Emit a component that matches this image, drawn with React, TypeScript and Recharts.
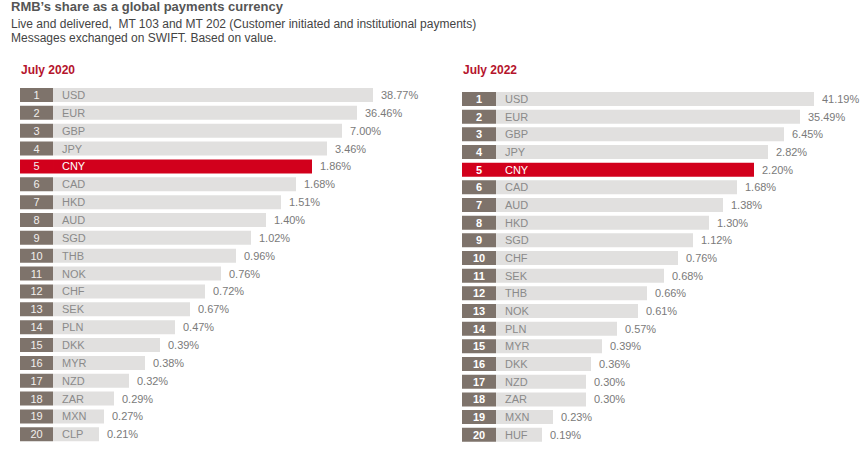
import React from 'react';
import { BarChart, Bar, XAxis, YAxis, Cell, LabelList } from 'recharts';

// July 2020 ranking
const codes2020 = ['USD', 'EUR', 'GBP', 'JPY', 'CNY', 'CAD', 'HKD', 'AUD', 'SGD', 'THB', 'NOK', 'CHF', 'SEK', 'PLN', 'DKK', 'MYR', 'NZD', 'ZAR', 'MXN', 'CLP'];
const shares2020 = [38.77, 36.46, 7.0, 3.46, 1.86, 1.68, 1.51, 1.4, 1.02, 0.96, 0.76, 0.72, 0.67, 0.47, 0.39, 0.38, 0.32, 0.29, 0.27, 0.21];
// ranking bar length (index units)
const bars2020 = [320, 304, 289, 274, 259, 243, 228, 213, 198, 183, 168, 152, 137, 122, 107, 92, 76, 61, 51, 46];

// July 2022 ranking
const codes2022 = ['USD', 'EUR', 'GBP', 'JPY', 'CNY', 'CAD', 'AUD', 'HKD', 'SGD', 'CHF', 'SEK', 'THB', 'NOK', 'PLN', 'MYR', 'DKK', 'NZD', 'ZAR', 'MXN', 'HUF'];
const shares2022 = [41.19, 35.49, 6.45, 2.82, 2.2, 1.68, 1.38, 1.3, 1.12, 0.76, 0.68, 0.66, 0.61, 0.57, 0.39, 0.36, 0.3, 0.3, 0.23, 0.19];
const bars2022 = [318, 304, 288, 272, 258, 241, 227, 213, 197, 182, 168, 151, 142, 121, 106, 95, 90, 90, 57, 46];

const RED = '#d2001c';
const BOX = '#7e736b';
const GREY = '#e1e0df';
const FONT = '"Liberation Sans", Arial, sans-serif';

const buildRows = (codes: string[], shares: number[], bars: number[], box: number) =>
  codes.map((code, i) => ({
    rank: i + 1,
    code,
    box,
    len: bars[i],
    label: shares[i].toFixed(2) + '%',
    hot: code === 'CNY',
  }));

function getRect(p: any) {
  const vb = p.viewBox || {};
  return {
    x: p.x ?? vb.x,
    y: p.y ?? vb.y,
    width: p.width ?? vb.width,
    height: p.height ?? vb.height,
  };
}

function Ranking({ rows, width, height, domainMax, bold }: any) {
  const rankLabel = (p: any) => {
    const r = getRect(p);
    return (
      <text x={r.x + r.width / 2} y={r.y + r.height / 2} dy="0.36em" textAnchor="middle" fill={bold ? '#ffffff' : '#f2efed'} fontSize={11} fontWeight={bold ? 700 : 400} fontFamily={FONT}>
        {rows[p.index].rank}
      </text>
    );
  };
  const codeLabel = (p: any) => {
    const r = getRect(p);
    return (
      <text x={r.x + 9} y={r.y + r.height / 2} dy="0.36em" fill={rows[p.index].hot ? '#ffffff' : '#8a8a8a'} fontSize={11} fontFamily={FONT}>
        {rows[p.index].code}
      </text>
    );
  };
  const valueLabel = (p: any) => {
    const r = getRect(p);
    return (
      <text x={r.x + r.width + 8} y={r.y + r.height / 2} dy="0.36em" fill="#7a7a7a" fontSize={11} fontFamily={FONT}>
        {rows[p.index].label}
      </text>
    );
  };
  return (
    <BarChart width={width} height={height} data={rows} layout="vertical" margin={{ top: 0, right: 0, bottom: 0, left: 0 }} barCategoryGap={0}>
      <XAxis type="number" hide domain={[0, domainMax]} />
      <YAxis type="category" dataKey="code" hide />
      <Bar dataKey="box" stackId="s" barSize={14} isAnimationActive={false}>
        {rows.map((r: any, i: number) => (
          <Cell key={i} fill={r.hot ? RED : BOX} />
        ))}
        <LabelList dataKey="rank" content={rankLabel} />
      </Bar>
      <Bar dataKey="len" stackId="s" barSize={14} isAnimationActive={false}>
        {rows.map((r: any, i: number) => (
          <Cell key={i} fill={r.hot ? RED : GREY} />
        ))}
        <LabelList dataKey="code" content={codeLabel} />
        <LabelList dataKey="label" content={valueLabel} />
      </Bar>
    </BarChart>
  );
}

const rows2020 = buildRows(codes2020, shares2020, bars2020, 33);
const rows2022 = buildRows(codes2022, shares2022, bars2022, 34);

export default function App() {
  return (
    <div style={{ position: 'absolute', left: 0, top: 0, width: 868, height: 455, background: '#ffffff', fontFamily: FONT, overflow: 'hidden' }}>
      <div style={{ position: 'absolute', left: 11, top: 0, fontSize: 13, lineHeight: '14px', fontWeight: 700, color: '#555555', whiteSpace: 'nowrap' }}>
        RMB’s share as a global payments currency
      </div>
      <div style={{ position: 'absolute', left: 11, top: 17, fontSize: 12, lineHeight: '14px', color: '#444444', whiteSpace: 'nowrap' }}>
        Live and delivered,&nbsp; MT 103 and MT 202 (Customer initiated and institutional payments)
      </div>
      <div style={{ position: 'absolute', left: 11, top: 31, fontSize: 12, lineHeight: '14px', color: '#444444', whiteSpace: 'nowrap' }}>
        Messages exchanged on SWIFT. Based on value.
      </div>
      <div style={{ position: 'absolute', left: 21, top: 63, fontSize: 12, lineHeight: '14px', fontWeight: 700, color: '#b5142c', whiteSpace: 'nowrap' }}>
        July 2020
      </div>
      <div style={{ position: 'absolute', left: 463, top: 63, fontSize: 12, lineHeight: '14px', fontWeight: 700, color: '#b5142c', whiteSpace: 'nowrap' }}>
        July 2022
      </div>
      <div style={{ position: 'absolute', left: 20, top: 86.4 }}>
        <Ranking rows={rows2020} width={430} height={357.2} domainMax={430} bold={false} />
      </div>
      <div style={{ position: 'absolute', left: 462, top: 89.5 }}>
        <Ranking rows={rows2022} width={400} height={353.4} domainMax={400} bold={true} />
      </div>
    </div>
  );
}
